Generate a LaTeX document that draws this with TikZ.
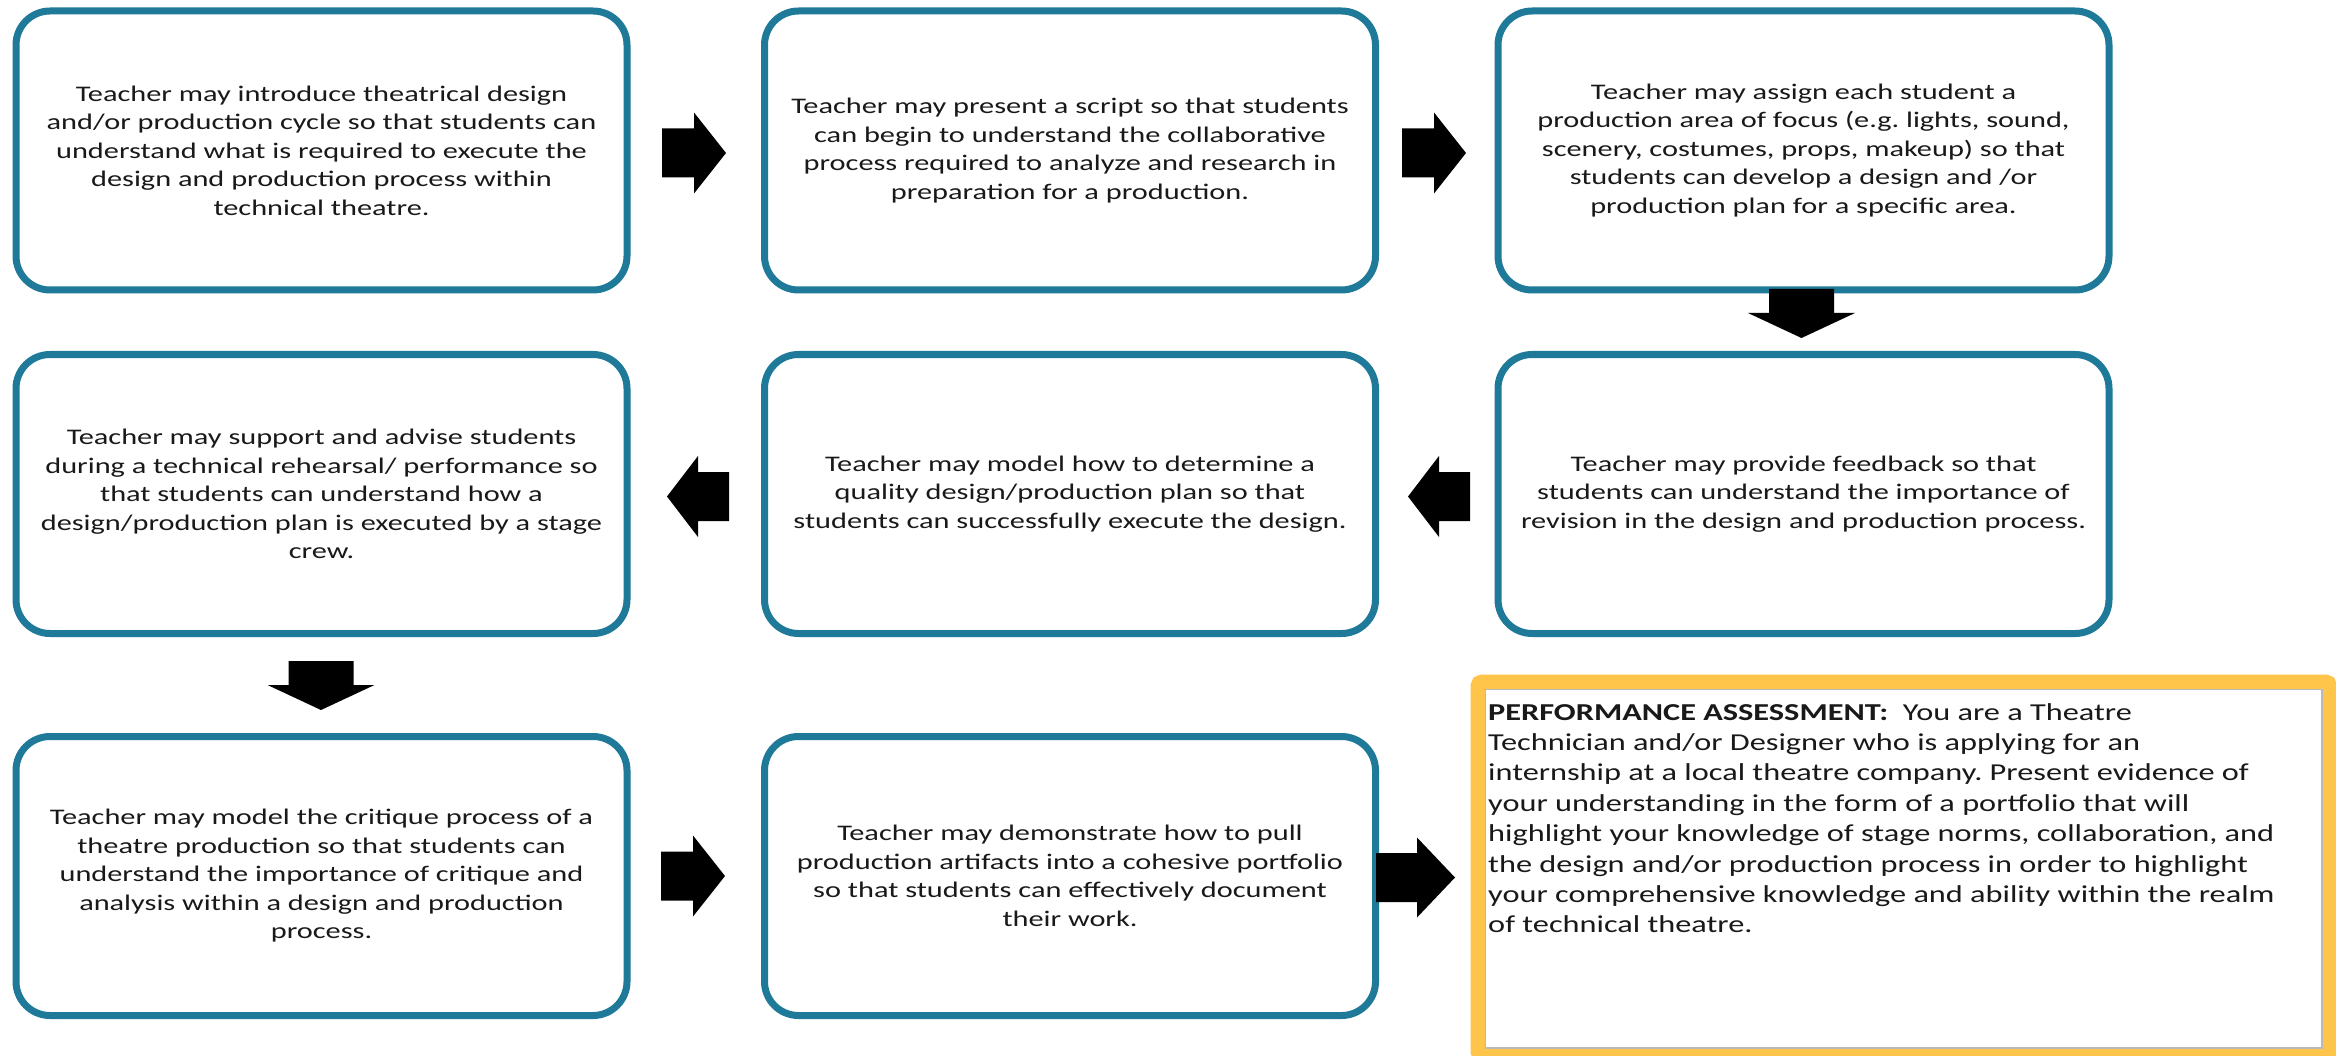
\documentclass[tikz,border=0pt]{standalone}
\usepackage{fontspec}
\setmainfont{Carlito}[FakeStretch=1.36]
\newfontfamily\perffont{Carlito}[FakeStretch=1.33]
\frenchspacing
\definecolor{boxblue}{RGB}{31,121,152}
\definecolor{assessorange}{RGB}{255,197,75}
\definecolor{txt}{RGB}{25,25,25}
\tikzset{
  card/.style={draw=boxblue, line width=7pt, rounded corners=34pt,
    minimum width=611pt, minimum height=279pt, inner sep=0pt,
    align=center, text=txt, font=\fontsize{22.3}{28.5}\selectfont},
  pics/rarrow/.style={code={\fill[black] (-32,-24.5) -- (0,-24.5) -- (0,-40.5) -- (32,0) -- (0,40.5) -- (0,24.5) -- (-32,24.5) -- cycle;}},
  pics/bigrarrow/.style={code={\fill[black] (-41,-24.5) -- (0,-24.5) -- (0,-40) -- (38,0) -- (0,40) -- (0,24.5) -- (-41,24.5) -- cycle;}},
  pics/larrow/.style={code={\fill[black] (31,-24.5) -- (0,-24.5) -- (0,-40.5) -- (-31,0) -- (0,40.5) -- (0,24.5) -- (31,24.5) -- cycle;}},
  pics/darrow/.style={code={\fill[black] (-32.5,-24) -- (-32.5,0) -- (-53.5,0) -- (0,25) -- (53.5,0) -- (32.5,0) -- (32.5,-24) -- cycle;}}
}
\begin{document}
\begin{tikzpicture}[x=1pt,y=-1pt]
\path[use as bounding box, clip] (0,0) rectangle (2336,1056);
\fill[white] (0,0) rectangle (2336,1056);

% row 1
\node[card] (b1) at (321.5,150.5) {Teacher may introduce theatrical design\\and/or production cycle so that students can\\understand what is required to execute the\\design and production process within\\technical theatre.};
\node[card] (b2) at (1070,150.5) {Teacher may present a script so that students\\can begin to understand the collaborative\\process required to analyze and research in\\preparation for a production.};
\node[card] (b3) at (1803.5,150.5) {Teacher may assign each student a\\production area of focus (e.g. lights, sound,\\scenery, costumes, props, makeup) so that\\students can develop a design and /or\\production plan for a specific area.};

% row 2
\node[card] (b4) at (321.5,494) {Teacher may support and advise students\\during a technical rehearsal/ performance so\\that students can understand how a\\design/production plan is executed by a stage\\crew.};
\node[card] (b5) at (1070,494) {Teacher may model how to determine a\\quality design/production plan so that\\students can successfully execute the design.};
\node[card] (b6) at (1803.5,494) {Teacher may provide feedback so that\\students can understand the importance of\\revision in the design and production process.};

% row 3
\node[card] (b7) at (321.5,876) {Teacher may model the critique process of a\\theatre production so that students can\\understand the importance of critique and\\analysis within a design and production\\process.};
\node[card] (b8) at (1070,876) {Teacher may demonstrate how to pull\\production artifacts into a cohesive portfolio\\so that students can effectively document\\their work.};

% performance assessment box
\node[draw=assessorange, line width=15pt, rounded corners=4pt, minimum width=851.5pt, minimum height=373.5pt, inner sep=0pt] (perf) at (1903.75,868.75) {};
\draw[gray!55, line width=1.2pt] (1485.5,689.5) rectangle (2322,1048);
\node[anchor=north west, inner sep=0pt, align=left, text=txt, font=\perffont\fontsize{24.3}{30.4}\selectfont] (perftext) at (1488,703)
{\textbf{PERFORMANCE ASSESSMENT:}\ \ You are a Theatre\\Technician and/or Designer who is applying for an\\internship at a local theatre company. Present evidence of\\your understanding in the form of a portfolio that will\\highlight your knowledge of stage norms, collaboration, and\\the design and/or production process in order to highlight\\your comprehensive knowledge and ability within the realm\\of technical theatre.};

% block arrows
\pic at (694,153) {rarrow};
\pic at (1434,153) {rarrow};
\pic at (1801.5,313) {darrow};
\pic at (1439,496.5) {larrow};
\pic at (698,496.5) {larrow};
\pic at (321,685) {darrow};
\pic at (693,876) {rarrow};
\pic at (1417,877.5) {bigrarrow};
\end{tikzpicture}
\end{document}
